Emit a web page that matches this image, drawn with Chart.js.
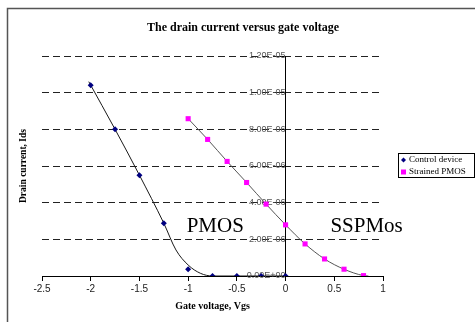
<!DOCTYPE html>
<html>
<head>
<meta charset="utf-8">
<script src="https://cdn.jsdelivr.net/npm/chart.js@4.4.1/dist/chart.umd.min.js"></script>
<style>
html,body{margin:0;padding:0;background:#fff;}
#wrap{width:475px;height:322px;position:relative;}
</style>
</head>
<body>
<div id="wrap"><canvas id="c" width="475" height="322"></canvas></div>
<script>
// ---- data ----
const titleText = 'The drain current versus gate voltage';
const xTitle = 'Gate voltage, Vgs';
const yTitle = 'Drain current, Ids';
const seriesNames = ['Control device', 'Strained PMOS'];

const xTicks = [-2.5, -2, -1.5, -1, -0.5, 0, 0.5, 1];
const xTickLabels = ['-2.5', '-2', '-1.5', '-1', '-0.5', '0', '0.5', '1'];
const yTicks = [0, 2e-6, 4e-6, 6e-6, 8e-6, 1e-5, 1.2e-5];
const yTickLabels = ['0.00E+00', '2.00E-06', '4.00E-06', '6.00E-06', '8.00E-06', '1.00E-05', '1.20E-05'];

// Control device measured points
const controlX = [-2, -1.75, -1.5, -1.25, -1, -0.75, -0.5, -0.25, 0];
const controlY = [10.4e-6, 8.0e-6, 5.5e-6, 2.88e-6, 0.37e-6, 0, 0, 0, 0];
// Control device smoothed curve (as drawn)
const controlFitX = [-2.02, -1.75, -1.5, -1.25, -1.125, -1.0, -0.875, -0.75, -0.5, -0.25, 0];
const controlFitY = [10.6e-6, 8.0e-6, 5.5e-6, 2.88e-6, 1.42e-6, 0.6e-6, 0.15e-6, 0, 0, 0, 0];

// Strained PMOS measured points
const strainedX = [-1, -0.8, -0.6, -0.4, -0.2, 0, 0.2, 0.4, 0.6, 0.8];
const strainedY = [8.58e-6, 7.45e-6, 6.25e-6, 5.1e-6, 3.92e-6, 2.79e-6, 1.75e-6, 0.93e-6, 0.37e-6, 0.02e-6];
// Strained PMOS smoothed curve (as drawn)
const strainedFitX = [-1, -0.8, -0.6, -0.4, -0.2, 0, 0.2, 0.4, 0.6, 0.8, 0.85];
const strainedFitY = [8.58e-6, 7.45e-6, 6.25e-6, 5.1e-6, 3.92e-6, 2.79e-6, 1.75e-6, 0.93e-6, 0.37e-6, 0.02e-6, 0];

const annotations = [
  {text: 'PMOS', x: -1.015, y: 2.7e-6},
  {text: 'SSPMos', x: 0.46, y: 2.7e-6}
];

// ---- build ----
const pts = (xs, ys) => xs.map((x, i) => ({x: x, y: ys[i]}));
const SERIF = '"Liberation Serif", "Times New Roman", serif';
const SANS = '"Liberation Sans", Arial, sans-serif';
const NAVY = '#000080';
const MAGENTA = '#FF00FF';

const decor = {
  id: 'decor',
  beforeDraw(chart) {
    const ctx = chart.ctx;
    ctx.save();
    ctx.fillStyle = '#fff';
    ctx.fillRect(0, 0, chart.width, chart.height);
    ctx.strokeStyle = '#555';
    ctx.lineWidth = 1.5;
    ctx.beginPath();
    ctx.moveTo(7.5, 330);
    ctx.lineTo(7.5, 8.5);
    ctx.lineTo(480, 8.5);
    ctx.stroke();
    ctx.restore();
  },
  afterDraw(chart) {
    const ctx = chart.ctx;
    const xs = chart.scales.x, ys = chart.scales.y;
    const ca = chart.chartArea;
    ctx.save();
    ctx.fillStyle = '#000';
    // title
    ctx.font = 'bold 12px ' + SERIF;
    ctx.textAlign = 'center';
    ctx.textBaseline = 'middle';
    ctx.fillText(titleText, 243, 28);
    // x title
    ctx.font = 'bold 10px ' + SERIF;
    ctx.fillText(xTitle, (ca.left + ca.right) / 2, 306);
    // y title
    ctx.save();
    ctx.translate(24, (ca.top + ca.bottom) / 2);
    ctx.rotate(-Math.PI / 2);
    ctx.font = 'bold 9.5px ' + SERIF;
    ctx.fillText(yTitle, 0, 0);
    ctx.restore();
    // annotations
    ctx.font = '21px ' + SERIF;
    ctx.textAlign = 'left';
    annotations.forEach(a => {
      ctx.fillText(a.text, xs.getPixelForValue(a.x), ys.getPixelForValue(a.y));
    });
    // legend
    const lx = 398.5, ly = 153.5, lw = 76, lh = 24;
    ctx.fillStyle = '#fff';
    ctx.fillRect(lx, ly, lw, lh);
    ctx.strokeStyle = '#000';
    ctx.lineWidth = 1;
    ctx.strokeRect(lx, ly, lw, lh);
    ctx.font = '9px ' + SERIF;
    ctx.textAlign = 'left';
    ctx.fillStyle = '#000';
    ctx.fillText(seriesNames[0], 409, 160);
    ctx.fillText(seriesNames[1], 409, 172);
    // markers
    ctx.fillStyle = NAVY;
    ctx.beginPath();
    ctx.moveTo(403.5, 157.5); ctx.lineTo(406, 160); ctx.lineTo(403.5, 162.5); ctx.lineTo(401, 160);
    ctx.closePath(); ctx.fill();
    ctx.fillStyle = MAGENTA;
    ctx.fillRect(401, 169.5, 5, 5);
    ctx.restore();
  }
};

new Chart(document.getElementById('c'), {
  type: 'scatter',
  data: {
    datasets: [
      {
        label: 'controlFit',
        data: pts(controlFitX, controlFitY),
        showLine: true,
        borderColor: '#1a1a1a',
        borderWidth: 1,
        pointRadius: 0,
        cubicInterpolationMode: 'monotone',
        order: 3
      },
      {
        label: 'strainedFit',
        data: pts(strainedFitX, strainedFitY),
        showLine: true,
        borderColor: '#555',
        borderWidth: 1,
        pointRadius: 0,
        cubicInterpolationMode: 'monotone',
        order: 3
      },
      {
        label: seriesNames[0],
        data: pts(controlX, controlY),
        showLine: false,
        pointStyle: 'rectRot',
        pointRadius: 3,
        backgroundColor: NAVY,
        borderColor: NAVY,
        borderWidth: 0,
        order: 1
      },
      {
        label: seriesNames[1],
        data: pts(strainedX, strainedY),
        showLine: false,
        pointStyle: 'rect',
        pointRadius: 3.6,
        backgroundColor: MAGENTA,
        borderColor: MAGENTA,
        borderWidth: 0,
        order: 2
      }
    ]
  },
  options: {
    responsive: false,
    animation: false,
    events: [],
    layout: {padding: {left: 42, right: 92, top: 56, bottom: 46}},
    plugins: {legend: {display: false}, title: {display: false}, tooltip: {enabled: false}},
    scales: {
      x: {
        type: 'linear',
        position: {y: 0},
        min: -2.5,
        max: 1,
        afterBuildTicks: s => { s.ticks = xTicks.map(v => ({value: v})); },
        ticks: {
          callback: (v, i) => xTickLabels[i],
          font: {family: SANS, size: 10},
          color: '#222',
          padding: 3,
          maxRotation: 0,
          autoSkip: false
        },
        grid: {drawOnChartArea: false, drawTicks: true, tickLength: 4, color: '#000'},
        border: {display: true, color: '#000', width: 1}
      },
      y: {
        type: 'linear',
        position: {x: 0},
        min: 0,
        max: 1.2e-5,
        afterBuildTicks: s => { s.ticks = yTicks.map(v => ({value: v})); },
        ticks: {
          callback: (v, i) => yTickLabels[i],
          font: {family: SANS, size: 9},
          color: '#555',
          padding: 2,
          autoSkip: false
        },
        grid: {drawOnChartArea: true, drawTicks: true, tickLength: 5, color: '#222', tickColor: '#000', tickBorderDash: []},
        border: {display: true, color: '#000', width: 1, dash: [7, 4]}
      }
    }
  },
  plugins: [decor]
});
</script>
</body>
</html>
